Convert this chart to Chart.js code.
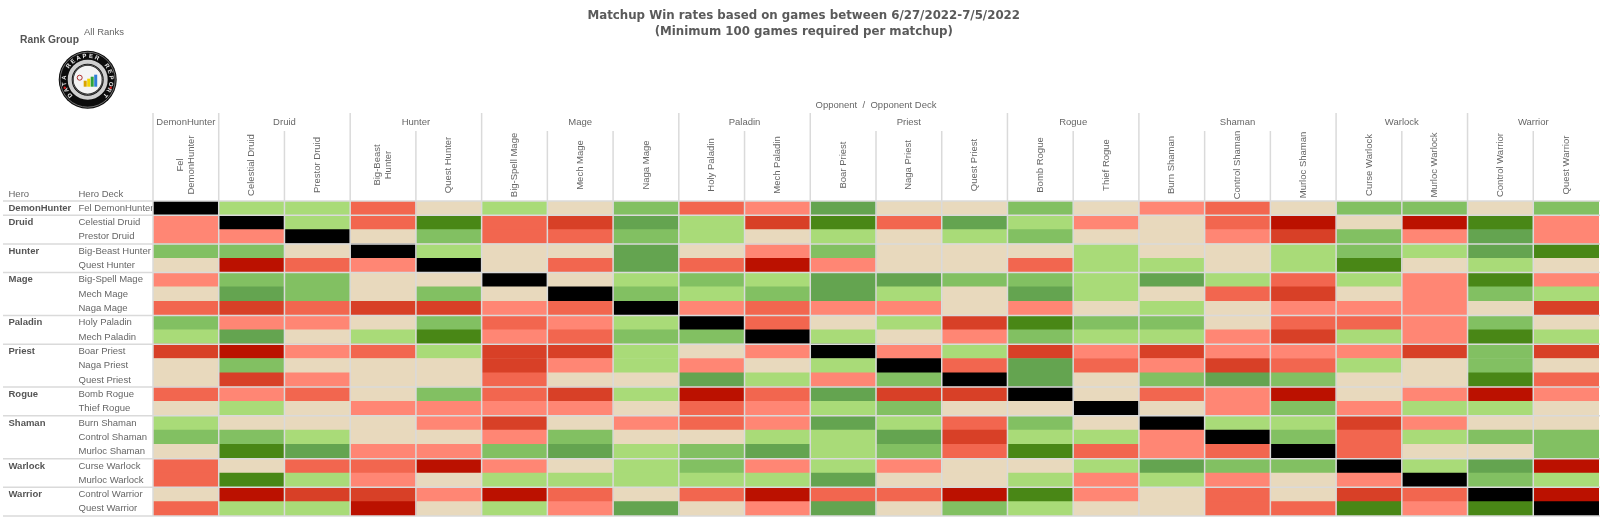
<!DOCTYPE html>
<html lang="en">
<head>
  <meta charset="UTF-8" />
  <title>Matchup Win rates</title>
  <script src="https://cdn.jsdelivr.net/npm/chart.js"></script>
  <style>
    body {
      margin: 0;
      background: #fff;
    }

    canvas {
      display: block;
    }
  </style>
</head>
<body>
  <canvas id="chart-matchup" width="1600" height="520"></canvas>

  <script>
    const heroes = ['DemonHunter','Druid','Hunter','Mage','Paladin','Priest','Rogue','Shaman','Warlock','Warrior'];
    const heroDeckCounts = [1,2,2,3,2,3,2,3,2,2];

    const decks = [
      'Fel DemonHunter','Celestial Druid','Prestor Druid','Big-Beast Hunter','Quest Hunter',
      'Big-Spell Mage','Mech Mage','Naga Mage','Holy Paladin','Mech Paladin',
      'Boar Priest','Naga Priest','Quest Priest','Bomb Rogue','Thief Rogue',
      'Burn Shaman','Control Shaman','Murloc Shaman','Curse Warlock','Murloc Warlock',
      'Control Warrior','Quest Warrior'
    ];

    // column heads wrap where the deck name is too long for the column
    const opponentHeads = decks.map(d => {
      if (d === 'Fel DemonHunter') return ['Fel','DemonHunter'];
      if (d === 'Big-Beast Hunter') return ['Big-Beast','Hunter'];
      return [d];
    });

    // win rate band per cell, read from the colours
    // 0 = mirror match, 1 = worst ... 5 = even ... 9 = best
    const winBands = [
      [0,6,6,3,5,6,5,7,3,4,8,5,5,7,5,4,3,5,7,7,5,7],
      [4,0,6,3,9,3,2,8,6,2,9,3,8,6,4,5,3,1,5,1,9,4],
      [4,4,0,5,7,3,3,7,6,5,6,5,6,7,5,5,4,2,7,4,8,4],
      [7,7,5,0,6,5,5,8,5,4,7,5,5,5,6,5,5,6,7,6,8,9],
      [5,1,3,4,0,5,3,8,3,1,4,5,5,3,6,6,5,6,9,5,6,5],
      [4,7,7,5,5,0,5,6,7,6,8,8,7,7,6,8,6,3,6,4,9,4],
      [5,8,7,5,7,5,0,7,6,7,8,6,5,8,6,5,3,2,5,4,7,6],
      [3,2,3,2,2,4,3,0,4,3,4,4,5,4,5,6,5,4,4,4,5,2],
      [7,4,4,5,7,3,4,6,0,3,5,6,2,9,7,7,5,3,3,4,7,5],
      [6,8,5,6,9,4,3,7,7,0,6,5,4,7,6,6,4,2,6,4,9,6],
      [2,1,4,3,6,2,2,6,5,4,0,4,6,2,4,2,4,4,4,2,7,2],
      [5,7,5,5,5,2,4,6,4,5,6,0,3,8,3,4,2,3,6,5,7,5],
      [5,2,4,5,5,3,5,5,8,6,4,7,0,8,5,7,8,7,5,5,9,3],
      [3,4,3,5,7,3,2,6,1,3,8,2,2,0,5,3,4,1,5,4,1,4],
      [5,6,5,4,4,4,4,5,3,4,6,7,5,5,0,5,4,7,4,6,6,5],
      [6,5,5,5,4,2,5,4,3,4,8,6,3,7,5,0,6,6,2,4,5,5],
      [7,7,6,5,5,4,7,5,5,6,6,8,2,6,6,4,0,7,3,6,7,7],
      [5,9,8,4,4,7,8,6,7,8,6,7,3,9,3,4,3,0,3,5,5,7],
      [3,5,3,3,1,4,5,6,7,4,6,4,5,5,6,8,7,7,0,6,8,1],
      [3,9,6,4,5,6,6,6,6,6,8,5,5,6,4,6,4,5,4,0,7,6],
      [5,1,2,2,4,1,3,5,3,1,3,3,1,9,4,5,3,5,2,3,0,1],
      [3,6,6,1,5,6,4,8,5,4,8,5,7,6,5,5,3,3,9,4,9,0]
    ];

    const bandColors = ['#000000','#BB1100','#D84027','#F2664F','#FF8674','#E8D9BD','#A9DB78','#82C062','#64A450','#498716'];

    const lineColor = '#dadada';
    const textColor = '#666666';
    const labelFont = '9.5px "Liberation Sans"';

    // only the first row of each hero carries its name
    const heroRowLabels = heroes.flatMap((h, i) =>
      Array.from({ length: heroDeckCounts[i] }, (_, n) => n === 0 ? h : ''));

    const datasets = decks.map((d, col) => ({
      label: d,
      data: decks.map(() => [col, col + 1]),
      backgroundColor: winBands.map(row => bandColors[row[col]]),
      borderWidth: 0,
      barPercentage: 1,
      categoryPercentage: 1,
      grouped: false
    }));

    function drawLogo(ctx, cx, cy, r) {
      ctx.save();
      ctx.fillStyle = '#0c0c0c';
      ctx.beginPath();
      ctx.arc(cx, cy, r, 0, Math.PI * 2);
      ctx.fill();
      ctx.strokeStyle = '#8a8a8a';
      ctx.lineWidth = 0.8;
      ctx.beginPath();
      ctx.arc(cx, cy, r - 1.5, 0, Math.PI * 2);
      ctx.stroke();

      ctx.strokeStyle = '#d0d0d0';
      ctx.lineWidth = 4;
      ctx.beginPath();
      ctx.arc(cx, cy, r - 11, 0, Math.PI * 2);
      ctx.stroke();
      ctx.strokeStyle = '#555555';
      ctx.lineWidth = 1;
      ctx.beginPath();
      ctx.arc(cx, cy, r - 14, 0, Math.PI * 2);
      ctx.stroke();
      ctx.fillStyle = '#f4f4f4';
      ctx.beginPath();
      ctx.arc(cx, cy, r - 15, 0, Math.PI * 2);
      ctx.fill();

      // ring text
      ctx.fillStyle = '#e8e8e8';
      ctx.font = 'bold 6px "Liberation Sans"';
      ctx.textAlign = 'center';
      ctx.textBaseline = 'middle';
      const ringText = 'DATA REAPER REPORT';
      [...ringText].forEach((ch, i) => {
        const a = -Math.PI / 2 + (i - (ringText.length - 1) / 2) * 0.27;
        ctx.save();
        ctx.translate(cx + Math.cos(a) * (r - 5.5), cy + Math.sin(a) * (r - 5.5));
        ctx.rotate(a + Math.PI / 2);
        ctx.fillText(ch, 0, 0);
        ctx.restore();
      });

      ctx.fillStyle = '#e02020';
      [[-23, 8], [23, 8]].forEach(p => {
        ctx.beginPath();
        ctx.arc(cx + p[0], cy + p[1], 1.2, 0, Math.PI * 2);
        ctx.fill();
      });

      // bars in the middle of the badge
      [['#d9a400', -4, 6], ['#f2d500', -0.5, 8], ['#2fa33a', 3, 10], ['#2f7fd6', 6.5, 12]].forEach(b => {
        ctx.fillStyle = b[0];
        ctx.fillRect(cx + b[1], cy + 7 - b[2], 3, b[2]);
      });
      ctx.strokeStyle = '#b03030';
      ctx.lineWidth = 1;
      ctx.beginPath();
      ctx.arc(cx - 8, cy - 2, 2.5, 0, Math.PI * 2);
      ctx.stroke();
      ctx.restore();
    }

    const headerPlugin = {
      id: 'matchupHeader',
      afterDatasetsDraw(chart) {
        const ctx = chart.ctx;
        const x = chart.scales.x;
        const y = chart.scales.y;
        const area = chart.chartArea;
        const rowTop = i => (y.getPixelForTick(i) + y.getPixelForTick(i - 1)) / 2;
        ctx.save();

        // column separators, longer where a hero group starts
        const groupStarts = [];
        heroDeckCounts.reduce((sum, n) => { groupStarts.push(sum); return sum + n; }, 0);
        ctx.strokeStyle = lineColor;
        ctx.lineWidth = 1.5;
        for (let c = 0; c < decks.length; c++) {
          const px = x.getPixelForValue(c);
          ctx.beginPath();
          ctx.moveTo(px, groupStarts.includes(c) ? 113 : 131);
          ctx.lineTo(px, area.bottom);
          ctx.stroke();
        }

        // hero group rules
        groupStarts.forEach(r => {
          const py = r === 0 ? area.top : rowTop(r);
          ctx.beginPath();
          ctx.moveTo(3, py);
          ctx.lineTo(area.right + 1, py);
          ctx.stroke();
        });
        ctx.beginPath();
        ctx.moveTo(3, area.bottom);
        ctx.lineTo(area.right + 1, area.bottom);
        ctx.stroke();

        ctx.fillStyle = textColor;
        ctx.font = labelFont;
        ctx.textBaseline = 'middle';

        // hero names over the columns
        ctx.textAlign = 'center';
        groupStarts.forEach((c, i) => {
          const mid = (x.getPixelForValue(c) + x.getPixelForValue(c + heroDeckCounts[i])) / 2;
          ctx.fillText(heroes[i], mid, 122.5);
        });
        ctx.fillText('Opponent  /  Opponent Deck', (area.left + area.right) / 2, 105);

        // deck names over the columns, read bottom to top
        opponentHeads.forEach((lines, c) => {
          const mid = x.getPixelForValue(c + 0.5);
          lines.forEach((line, n) => {
            ctx.save();
            ctx.translate(mid + (n - (lines.length - 1) / 2) * 11.6, 165);
            ctx.rotate(-Math.PI / 2);
            ctx.fillText(line, 0, 0);
            ctx.restore();
          });
        });

        ctx.textAlign = 'left';
        ctx.fillText('Hero', 8.5, 194.5);
        ctx.fillText('Hero Deck', 78.5, 194.5);
        ctx.fillText('All Ranks', 84, 32);
        ctx.font = 'bold 10.3px "Liberation Sans"';
        ctx.fillStyle = '#555555';
        ctx.fillText('Rank Group', 20, 40);
        ctx.restore();

        drawLogo(ctx, 87.7, 79.7, 29);
      }
    };

    new Chart(document.getElementById('chart-matchup').getContext('2d'), {
      type: 'bar',
      data: { labels: decks, datasets: datasets },
      options: {
        indexAxis: 'y',
        responsive: false,
        animation: false,
        layout: { autoPadding: false, padding: { left: 8.5, right: 1, bottom: 4, top: 0 } },
        plugins: {
          legend: { display: false },
          title: {
            display: true,
            text: ['Matchup Win rates based on games between 6/27/2022-7/5/2022', '(Minimum 100 games required per matchup)'],
            color: '#5a5a5a',
            font: { family: '"DejaVu Sans"', size: 11.8, weight: 'bold', lineHeight: 1.38 },
            padding: { top: 7.5, bottom: 0 }
          }
        },
        scales: {
          x: {
            type: 'linear',
            position: 'top',
            min: 0,
            max: decks.length,
            grid: { display: false },
            border: { display: false },
            ticks: { display: false },
            afterFit(s) { s.height = 160.9; }
          },
          y: {
            offset: true,
            grid: { display: false },
            border: { display: false },
            weight: 0,
            ticks: {
              autoSkip: false,
              crossAlign: 'far',
              padding: -3,
              color: textColor,
              font: { family: '"Liberation Sans"', size: 9.5 }
            },
            afterFit(s) { s.width = 74.5; }
          },
          yHero: {
            type: 'category',
            axis: 'y',
            labels: heroRowLabels,
            position: 'left',
            offset: true,
            weight: 1,
            grid: { display: false },
            border: { display: false },
            ticks: {
              autoSkip: false,
              crossAlign: 'far',
              padding: -3,
              color: '#555555',
              font: { family: '"Liberation Sans"', size: 9.5, weight: 'bold' }
            },
            afterFit(s) { s.width = 70; }
          }
        }
      },
      plugins: [headerPlugin]
    });
  </script>
</body>
</html>
